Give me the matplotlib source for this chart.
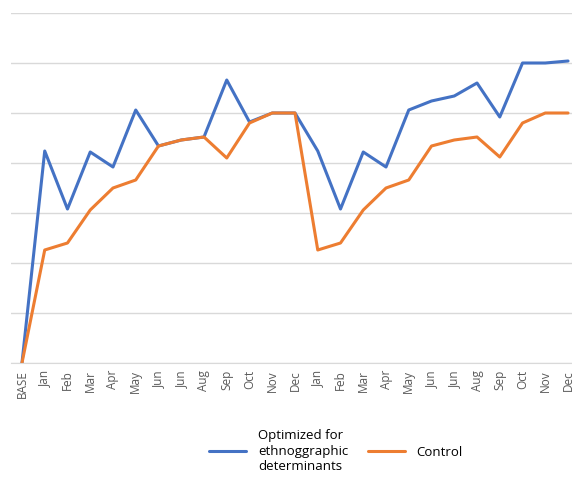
import matplotlib
matplotlib.use("Agg")
import matplotlib.pyplot as plt
import numpy as np

plt.rcParams['font.family'] = ['Open Sans', 'DejaVu Sans']

months = ["BASE", "Jan", "Feb", "Mar", "Apr", "May", "Jun", "Jun", "Aug", "Sep", "Oct", "Nov", "Dec",
          "Jan", "Feb", "Mar", "Apr", "May", "Jun", "Jun", "Aug", "Sep", "Oct", "Nov", "Dec"]
optimized = [0, 4.24, 3.08, 4.22, 3.92, 5.06, 4.34, 4.46, 4.52, 5.66, 4.82, 5.0, 5.0,
             4.24, 3.08, 4.22, 3.92, 5.06, 5.24, 5.34, 5.6, 4.92, 6.0, 6.0, 6.04]
control = [0, 2.26, 2.4, 3.06, 3.5, 3.66, 4.34, 4.46, 4.52, 4.1, 4.8, 5.0, 5.0,
           2.26, 2.4, 3.06, 3.5, 3.66, 4.34, 4.46, 4.52, 4.12, 4.8, 5.0, 5.0]

W, H = 572, 479
fig = plt.figure(figsize=(W / 100, H / 100), dpi=100)
# plot area in pixel units (runs slightly past the right edge)
left, right, top, bottom = 10.6, 579.4, 13, 363
ax = fig.add_axes([left / W, 1 - bottom / H, (right - left) / W, (bottom - top) / H])

x = np.arange(len(months))
ax.plot(x, optimized, color="#4472C4", lw=2.2, label="Optimized for\nethnoggraphic\ndeterminants",
        solid_joinstyle="round", solid_capstyle="round")
ax.plot(x, control, color="#ED7D31", lw=2.2, label="Control",
        solid_joinstyle="round", solid_capstyle="round")

ax.set_xlim(-0.5, len(months) - 0.5)
ax.set_ylim(0, 7)
ax.set_yticks(np.arange(0, 8))
ax.set_yticklabels([])
ax.yaxis.grid(True, color="#D9D9D9", lw=1.0)
ax.set_axisbelow(True)
ax.tick_params(axis="y", length=0)
ax.set_xticks(x)
ax.set_xticklabels(months, rotation=90, fontsize=8.5, color="#595959")
ax.tick_params(axis="x", length=0, pad=5)
for s in ["top", "right", "left"]:
    ax.spines[s].set_visible(False)
ax.spines["bottom"].set_color("#D9D9D9")

fig.legend(loc="center", bbox_to_anchor=(336 / W, 1 - 451 / H), ncol=2, frameon=False,
           fontsize=9.5, handlelength=2.8, columnspacing=1.5, handletextpad=0.9)

fig.savefig("out.png", dpi=100)
